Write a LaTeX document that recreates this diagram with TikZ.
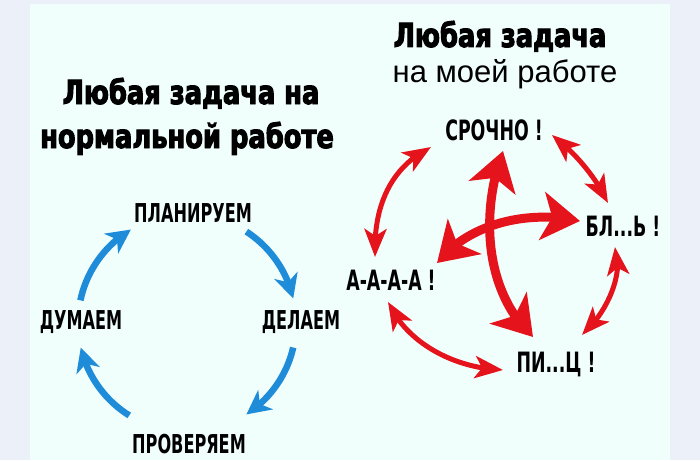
\documentclass[tikz,border=0pt]{standalone}
\usepackage{fontspec}
\setmainfont{Liberation Sans}
\newfontfamily\titlefont[FakeStretch=0.78,FakeBold=3]{DejaVu Sans}
\newfontfamily\labfont[FakeStretch=0.62]{DejaVu Sans}
\usetikzlibrary{arrows.meta,bending}
\definecolor{outerbg}{HTML}{ECF0F8}
\definecolor{panelbg}{HTML}{F0FEFC}
\definecolor{bluearr}{HTML}{1E8CD8}
\definecolor{redarr}{HTML}{E5141C}
\begin{document}
\begin{tikzpicture}[x=1pt,y=-1pt,
  ttl/.style={font=\titlefont\bfseries\fontsize{33}{33}\selectfont, anchor=base, inner sep=0pt},
  sub/.style={font=\fontsize{31}{31}\selectfont, anchor=base, inner sep=0pt},
  lab/.style={font=\labfont\bfseries\fontsize{26}{26}\selectfont, anchor=base, inner sep=0pt},
  labr/.style={font=\labfont\bfseries\fontsize{28}{28}\selectfont, anchor=base, inner sep=0pt},
  bluecyc/.style={line width=6.5pt, draw=bluearr, -{Stealth[length=24pt,width=24pt,inset=7pt]}},
  redsmall/.style={line width=5pt, draw=redarr, {Stealth[length=28pt,width=22pt,inset=7pt]}-{Stealth[length=28pt,width=22pt,inset=7pt]}},
  redbig/.style={line width=9pt, draw=redarr, {Stealth[length=38pt,width=48pt,inset=10pt]}-{Stealth[length=38pt,width=48pt,inset=10pt]}}
]
\useasboundingbox (0,0) rectangle (700,460);
\fill[outerbg] (0,0) rectangle (700,460);
\fill[panelbg] (30,4) rectangle (670,460);

% titles
\node[ttl] (t1a) at (191,104) {Любая задача на};
\node[ttl] (t1b) at (187,148) {нормальной работе};
\node[ttl] (t2a) at (500,47) {Любая задача};
\node[sub] (t2b) at (505,82) {на моей работе};

% left cycle
\node[lab] (plan) at (193,222) {ПЛАНИРУЕМ};
\node[lab] (dum) at (81,329) {ДУМАЕМ};
\node[lab] (del) at (301,329) {ДЕЛАЕМ};
\node[lab] (prov) at (189,453) {ПРОВЕРЯЕМ};
\coordinate (cyc) at (187,323);
\draw[bluecyc] (cyc) ++(-168:109) arc[start angle=-168, end angle=-121, radius=109];
\draw[bluecyc] (cyc) ++(-57:109) arc[start angle=-57, end angle=-13, radius=109];
\draw[bluecyc] (cyc) ++(13:109) arc[start angle=13, end angle=57, radius=109];
\draw[bluecyc] (cyc) ++(122:109) arc[start angle=122, end angle=167, radius=109];

% right chaos
\node[labr] (sro) at (494,140) {СРОЧНО !};
\node[labr] (bl) at (623,236) {БЛ...Ь !};
\node[labr] (aa) at (391,290) {А-А-А-А !};
\node[labr] (pi) at (556,372) {ПИ...Ц !};

\coordinate (ula) at (375,257); \coordinate (ulb) at (431,147);
\coordinate (ura) at (552,135); \coordinate (urb) at (608,203);
\coordinate (ra) at (615,247); \coordinate (rb) at (582,335);
\coordinate (lla) at (388,302); \coordinate (llb) at (503,370);
\coordinate (va) at (503,151); \coordinate (vb) at (533,337);
\coordinate (ha) at (580,221); \coordinate (hb) at (437,263);

\draw[redsmall] (ula) .. controls (373,200) and (395,165) .. (ulb);
\draw[redsmall] (ura) .. controls (572,150) and (595,175) .. (urb);
\draw[redsmall] (ra) .. controls (625,275) and (605,315) .. (rb);
\draw[redsmall] (lla) .. controls (405,340) and (450,368) .. (llb);
\draw[redbig] (va) .. controls (481,210) and (483,290) .. (vb);
\draw[redbig] (ha) .. controls (530,210) and (470,222) .. (hb);
\end{tikzpicture}
\end{document}
